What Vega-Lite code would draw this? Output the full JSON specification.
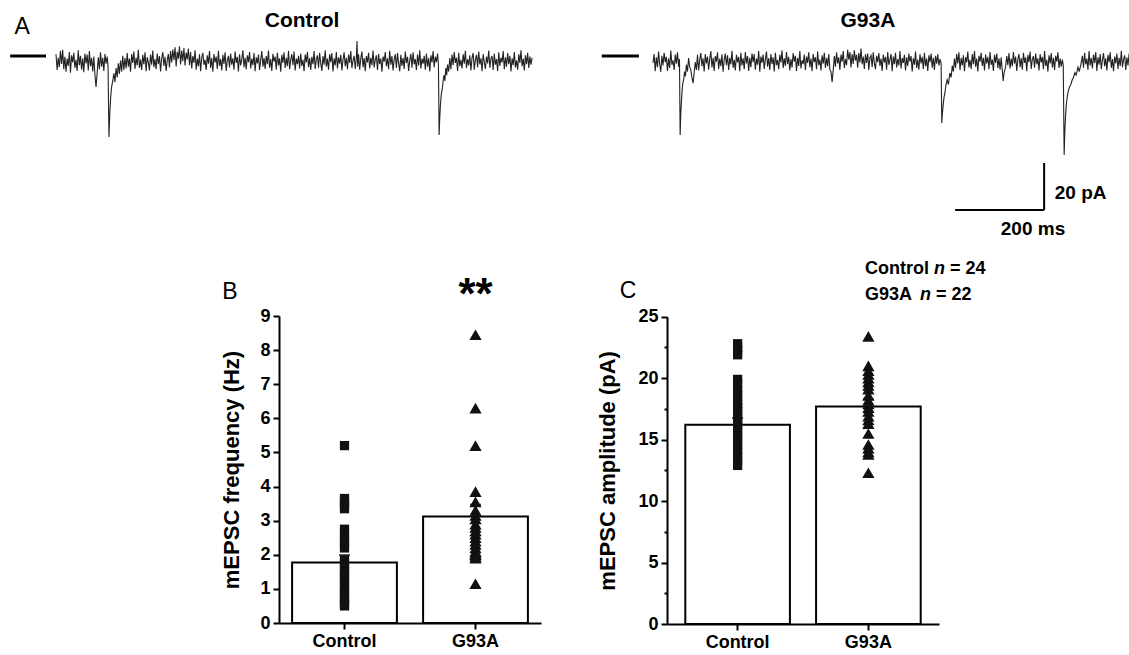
{
"$schema":"https://vega.github.io/schema/vega-lite/v6.json",
"width":1129,"height":655,"autosize":{"type":"none"},"padding":0,
"config":{"font":"Liberation Sans","view":{"stroke":null},
 "axis":{"domainColor":"black","tickColor":"black","labelColor":"black","titleColor":"black","labelFont":"Liberation Sans","titleFont":"Liberation Sans","labelFontSize":18,"labelFontWeight":"bold","titleFontSize":22,"titleFontWeight":"bold","domainWidth":2,"tickWidth":2,"grid":false}},
"datasets":{
"ctrl":[{"t":0,"v":2.9},{"t":2.5,"v":-3.8},{"t":5,"v":1.4},{"t":7.5,"v":-2.6},{"t":10,"v":4.3},{"t":12.5,"v":-1.3},{"t":15,"v":4.8},{"t":17.5,"v":-3.5},{"t":20,"v":1.8},{"t":22.5,"v":-4.6},
{"t":25,"v":1.0},{"t":27.5,"v":-2.1},{"t":30,"v":3.8},{"t":32.5,"v":-5.0},{"t":35,"v":2.4},{"t":37.5,"v":-0.6},{"t":40,"v":3.5},{"t":42.5,"v":-3.0},{"t":45,"v":0.5},{"t":47.5,"v":-4.2},
{"t":50,"v":4.6},{"t":52.5,"v":-1.8},{"t":55,"v":2.2},{"t":57.5,"v":-3.7},{"t":60,"v":1.1},{"t":62.5,"v":-4.8},{"t":65,"v":3.2},{"t":67.5,"v":-1.0},{"t":70,"v":2.7},{"t":72.5,"v":-4.0},
{"t":75,"v":4.2},{"t":77.5,"v":-2.2},{"t":80,"v":1.3},{"t":82.5,"v":-4.5},{"t":85,"v":1.9},{"t":87.5,"v":-6},{"t":90,"v":-11},{"t":92.5,"v":-5},{"t":95,"v":1.6},{"t":97.5,"v":-3.5},
{"t":100,"v":3.7},{"t":102.5,"v":-2.4},{"t":105,"v":1.4},{"t":107.5,"v":-4.2},{"t":110,"v":3.0},{"t":112.5,"v":-1.1},{"t":115,"v":1.9},{"t":117,"v":-2.4},{"t":119,"v":-32.3},{"t":121,"v":-22},
{"t":123,"v":-15},{"t":125,"v":-11},{"t":127.5,"v":-8.5},{"t":130,"v":-5.2},{"t":132.5,"v":-9},{"t":135,"v":-3.0},{"t":137.5,"v":-7},{"t":140,"v":-1.0},{"t":142.5,"v":-5.5},{"t":145,"v":0.2},
{"t":147.5,"v":-4.5},{"t":150,"v":2.2},{"t":152.5,"v":-3.8},{"t":155,"v":1.3},{"t":157.5,"v":-3.2},
{"t":160,"v":3.4},{"t":162.5,"v":-2.4},{"t":165,"v":1.0},{"t":167.5,"v":-4.6},{"t":170,"v":2.9},{"t":172.5,"v":-0.8},{"t":175,"v":4.0},{"t":177.5,"v":-3.4},{"t":180,"v":1.4},{"t":182.5,"v":-1.9},
{"t":185,"v":4.8},{"t":187.5,"v":-2.9},{"t":190,"v":0.6},{"t":192.5,"v":-3.8},{"t":195,"v":2.6},{"t":197.5,"v":-1.4},{"t":200,"v":3.7},{"t":202.5,"v":-4.3},{"t":205,"v":1.6},{"t":207.5,"v":-0.5},
{"t":210,"v":-4.0},{"t":212.5,"v":2.7},{"t":215,"v":-1.6},{"t":217.5,"v":4.5},{"t":220,"v":-2.6},{"t":222.5,"v":0.8},{"t":225,"v":-3.5},{"t":227.5,"v":3.2},{"t":230,"v":-1.3},{"t":232.5,"v":2.1},
{"t":235,"v":-4.5},{"t":237.5,"v":1.1},{"t":240,"v":3.8},{"t":242.5,"v":-2.1},{"t":245,"v":1.8},{"t":247.5,"v":-4.2},{"t":250,"v":0.3},{"t":252.5,"v":3.0},{"t":255,"v":-2.7},{"t":257.5,"v":4.2},
{"t":260,"v":-0.6},{"t":262.5,"v":4.9},{"t":265,"v":0.4},{"t":267.5,"v":5.8},{"t":270,"v":-2.3},{"t":272.5,"v":3.9},{"t":275,"v":1.0},{"t":277.5,"v":6.3},{"t":280,"v":-1.5},{"t":282.5,"v":4.4},
{"t":285,"v":-0.1},{"t":287.5,"v":5.5},{"t":290,"v":-1.9},{"t":292.5,"v":3.6},{"t":295,"v":0.7},{"t":297.5,"v":5.3},
{"t":300,"v":-1.8},{"t":302.5,"v":3.8},{"t":305,"v":-3.2},{"t":307.5,"v":2.1},{"t":310,"v":-0.8},{"t":312.5,"v":4.6},{"t":315,"v":-3.7},{"t":317.5,"v":1.0},{"t":320,"v":-2.2},{"t":322.5,"v":2.9},
{"t":325,"v":-4.3},{"t":327.5,"v":1.4},{"t":330,"v":3.5},{"t":332.5,"v":-1.6},{"t":335,"v":0.5},{"t":337.5,"v":-3.8},{"t":340,"v":2.4},{"t":342.5,"v":-1.1},{"t":345,"v":4.2},{"t":347.5,"v":-3.0},
{"t":350,"v":1.3},{"t":352.5,"v":-4.6},{"t":355,"v":3.0},{"t":357.5,"v":-0.6},{"t":360,"v":1.9},{"t":362.5,"v":-3.4},{"t":365,"v":4.3},{"t":367.5,"v":-2.1},{"t":370,"v":0.8},{"t":372.5,"v":-4.0},
{"t":375,"v":2.6},{"t":377.5,"v":-1.3},{"t":380,"v":3.7},{"t":382.5,"v":-4.2},{"t":385,"v":0.3},{"t":387.5,"v":2.2},{"t":390,"v":-2.7},{"t":392.5,"v":3.2},{"t":395,"v":-1.6},{"t":397.5,"v":1.1},
{"t":400,"v":-3.7},{"t":402.5,"v":4.0},{"t":405,"v":-0.8},{"t":407.5,"v":1.8},{"t":410,"v":-4.5},{"t":412.5,"v":2.9},{"t":415,"v":-1.9},{"t":417.5,"v":0.6},{"t":420,"v":4.6},{"t":422.5,"v":-2.6},
{"t":425,"v":1.4},{"t":427.5,"v":-3.5},{"t":430,"v":2.4},{"t":432.5,"v":-0.5},{"t":435,"v":3.8},{"t":437.5,"v":-3.2},{"t":440,"v":1.0},{"t":442.5,"v":-1.8},{"t":445,"v":3.4},{"t":447.5,"v":-4.3},
{"t":450,"v":1.6},{"t":452.5,"v":-1.0},{"t":455,"v":2.7},{"t":457.5,"v":-3.8},{"t":460,"v":0.5},{"t":462.5,"v":4.2},{"t":465,"v":-2.4},{"t":467.5,"v":1.3},{"t":470,"v":-3.4},{"t":472.5,"v":2.1},
{"t":475,"v":-1.4},{"t":477.5,"v":4.5},{"t":480,"v":-2.9},{"t":482.5,"v":0.8},{"t":485,"v":-4.2},{"t":487.5,"v":3.0},{"t":490,"v":-0.3},{"t":492.5,"v":1.9},{"t":495,"v":-3.7},{"t":497.5,"v":3.5},
{"t":500,"v":-1.9},{"t":502.5,"v":1.1},{"t":505,"v":-4.6},{"t":507.5,"v":2.6},{"t":510,"v":-0.8},{"t":512.5,"v":3.7},{"t":515,"v":-3.0},{"t":517.5,"v":1.4},{"t":520,"v":-2.2},{"t":522.5,"v":4.3},
{"t":525,"v":-3.5},{"t":527.5,"v":0.6},{"t":530,"v":2.9},{"t":532.5,"v":-1.8},{"t":535,"v":4.0},{"t":537.5,"v":-4.0},{"t":540,"v":1.0},{"t":542.5,"v":-1.3},{"t":545,"v":2.2},{"t":547.5,"v":-3.2},
{"t":550,"v":3.2},{"t":552.5,"v":-2.1},{"t":555,"v":0.5},{"t":557.5,"v":-4.3},{"t":560,"v":2.7},{"t":562.5,"v":-0.6},{"t":565,"v":3.8},{"t":567.5,"v":-2.6},{"t":570,"v":1.3},{"t":572.5,"v":-3.8},
{"t":575,"v":1.8},{"t":577.5,"v":-1.4},{"t":580,"v":4.2},{"t":582.5,"v":-3.4},{"t":585,"v":0.8},{"t":587.5,"v":2.4},{"t":590,"v":-2.9},{"t":592.5,"v":3.5},{"t":595,"v":-1.0},{"t":597.5,"v":-4.2},
{"t":600,"v":2.1},{"t":602.5,"v":-1.6},{"t":605,"v":4.6},{"t":607.5,"v":-2.4},{"t":610,"v":1.0},{"t":612.5,"v":-3.7},{"t":615,"v":2.9},{"t":617.5,"v":-0.5},{"t":620,"v":3.4},{"t":622.5,"v":-4.5},
{"t":625,"v":1.1},{"t":627.5,"v":-1.9},{"t":630,"v":3.8},{"t":632.5,"v":-3.2},{"t":635,"v":1.6},{"t":637.5,"v":-1.1},{"t":640,"v":2.6},{"t":642.5,"v":-4.0},{"t":645,"v":0.6},{"t":647.5,"v":3.7},
{"t":650,"v":-2.2},{"t":652.5,"v":1.4},{"t":655,"v":-3.5},{"t":657.5,"v":2.7},{"t":660,"v":-0.8},{"t":662.5,"v":4.2},{"t":665,"v":-3.0},{"t":667.5,"v":0.3},{"t":670,"v":2.2},{"t":672.5,"v":-3.4},
{"t":675,"v":1.6},{"t":676.5,"v":8.5},{"t":678,"v":-2.4},{"t":680,"v":2.9},{"t":682.5,"v":-3.7},{"t":685,"v":1.0},{"t":687.5,"v":4.0},{"t":690,"v":-2.6},{"t":692.5,"v":1.3},{"t":695,"v":-4.3},{"t":697.5,"v":2.1},
{"t":700,"v":-0.6},{"t":702.5,"v":3.5},{"t":705,"v":-3.2},{"t":707.5,"v":1.4},{"t":710,"v":-1.8},{"t":712.5,"v":4.5},{"t":715,"v":-2.7},{"t":717.5,"v":0.5},{"t":720,"v":2.4},{"t":722.5,"v":-3.8},
{"t":725,"v":3.0},{"t":727.5,"v":-1.3},{"t":730,"v":1.0},{"t":732.5,"v":-4.6},{"t":735,"v":1.9},{"t":737.5,"v":-0.3},{"t":740,"v":3.8},{"t":742.5,"v":-2.2},{"t":745,"v":1.1},{"t":747.5,"v":-3.5},
{"t":750,"v":4.3},{"t":752.5,"v":-1.6},{"t":755,"v":2.1},{"t":757.5,"v":-4.0},{"t":760,"v":0.6},{"t":762.5,"v":2.9},{"t":765,"v":-3.0},{"t":767.5,"v":3.4},{"t":770,"v":-1.0},{"t":772.5,"v":-4.3},
{"t":775,"v":2.6},{"t":777.5,"v":-2.1},{"t":780,"v":1.4},{"t":782.5,"v":-3.4},{"t":785,"v":4.0},{"t":787.5,"v":-0.8},{"t":790,"v":1.8},{"t":792.5,"v":-4.2},{"t":795,"v":0.3},{"t":797.5,"v":3.0},
{"t":800,"v":-2.9},{"t":802.5,"v":3.7},{"t":805,"v":-1.4},{"t":807.5,"v":0.8},{"t":810,"v":-3.8},{"t":812.5,"v":2.7},{"t":815,"v":-1.9},{"t":817.5,"v":4.6},{"t":820,"v":-3.2},{"t":822.5,"v":1.0},
{"t":825,"v":-1.1},{"t":827.5,"v":2.2},{"t":830,"v":-3.7},{"t":832.5,"v":3.2},{"t":835,"v":-2.4},{"t":837.5,"v":1.3},{"t":840,"v":-4.5},{"t":842.5,"v":2.4},{"t":845,"v":-0.6},{"t":847.5,"v":4.2},
{"t":850,"v":-2.6},{"t":852.5,"v":1.9},{"t":855,"v":-0.5},{"t":857.5,"v":3.2},{"t":859.5,"v":-1.6},{"t":861,"v":-31.5},{"t":862.5,"v":-24},{"t":864,"v":-18.5},{"t":866,"v":-14},{"t":868,"v":-12},
{"t":870,"v":-8.5},{"t":872,"v":-6},{"t":874,"v":-8.5},{"t":876,"v":-3},{"t":878,"v":-6},{"t":880,"v":-1.5},{"t":882.5,"v":-4.5},{"t":885,"v":1.2},{"t":887.5,"v":-3.5},
{"t":890,"v":2.7},{"t":892.5,"v":-1.8},{"t":895,"v":3.8},{"t":897.5,"v":-0.8},{"t":900,"v":1.4},{"t":902.5,"v":-4.2},{"t":905,"v":3.5},{"t":907.5,"v":-2.2},{"t":910,"v":0.5},{"t":912.5,"v":-3.2},
{"t":915,"v":2.9},{"t":917.5,"v":-1.1},{"t":920,"v":4.3},{"t":922.5,"v":-3.0},{"t":925,"v":0.8},{"t":927.5,"v":-1.9},{"t":930,"v":2.4},{"t":932.5,"v":-4.0},{"t":935,"v":1.3},{"t":937.5,"v":3.4},
{"t":940,"v":-3.7},{"t":942.5,"v":0.6},{"t":945,"v":2.6},{"t":947.5,"v":-2.6},{"t":950,"v":4.0},{"t":952.5,"v":-1.4},{"t":955,"v":1.1},{"t":957.5,"v":-4.3},{"t":960,"v":3.0},{"t":962.5,"v":-0.5},
{"t":965,"v":-3.4},{"t":967.5,"v":1.9},{"t":970,"v":-1.0},{"t":972.5,"v":4.5},{"t":975,"v":-2.9},{"t":977.5,"v":1.0},{"t":980,"v":2.1},{"t":982.5,"v":-3.8},{"t":985,"v":3.2},{"t":987.5,"v":-1.6},
{"t":990,"v":0.8},{"t":992.5,"v":-4.2},{"t":995,"v":3.7},{"t":997.5,"v":-2.1},{"t":1000,"v":1.4},{"t":1002.5,"v":-0.6},{"t":1005,"v":4.2},{"t":1007.5,"v":-3.5},{"t":1010,"v":1.6},{"t":1012.5,"v":-2.4},
{"t":1015,"v":3.4},{"t":1017.5,"v":-1.3},{"t":1020,"v":2.2},{"t":1022.5,"v":-4.5},{"t":1025,"v":1.1},{"t":1027.5,"v":-1.8},{"t":1030,"v":3.8},{"t":1032.5,"v":-2.7},{"t":1035,"v":0.3},{"t":1037.5,"v":-3.7},
{"t":1040,"v":2.9},{"t":1042.5,"v":-0.8},{"t":1045,"v":4.6},{"t":1047.5,"v":-2.2},{"t":1050,"v":1.0},{"t":1052.5,"v":-4.0},{"t":1055,"v":2.4},{"t":1057.5,"v":-1.4},{"t":1060,"v":3.5},{"t":1062.5,"v":-3.0},
{"t":1065,"v":1.9},{"t":1067.5,"v":-1.6},{"t":1070,"v":1.3}],
"g93a":[{"t":0,"v":-0.8},{"t":2.5,"v":3.0},{"t":5,"v":-4.3},{"t":7.5,"v":1.6},{"t":10,"v":-2.6},{"t":12.5,"v":4.0},{"t":15,"v":-1.3},{"t":17.5,"v":-4.6},{"t":20,"v":2.2},{"t":22.5,"v":-1.9},
{"t":25,"v":3.5},{"t":27.5,"v":-0.5},{"t":30,"v":1.8},{"t":32.5,"v":-4.2},{"t":35,"v":1.0},{"t":37.5,"v":-3.0},{"t":40,"v":4.5},{"t":42.5,"v":-1.6},{"t":45,"v":0.3},{"t":47.5,"v":-3.8},
{"t":50,"v":2.7},{"t":52.5,"v":-1.1},{"t":55,"v":3.7},{"t":57.5,"v":-2.4},{"t":59.5,"v":0.8},{"t":61,"v":-31.5},{"t":62.5,"v":-22},{"t":64,"v":-17},{"t":65.5,"v":-12.5},{"t":67,"v":-9.4},
{"t":69,"v":-7.8},{"t":71,"v":-4.5},{"t":73,"v":-6.5},{"t":75,"v":-1.5},{"t":77.5,"v":-4.5},{"t":80,"v":1.3},{"t":82.5,"v":-2.5},{"t":85,"v":-3.8},{"t":87.5,"v":-7},{"t":90,"v":-9.4},{"t":92.5,"v":-5},{"t":95,"v":-0.5},{"t":97.5,"v":-3.8},
{"t":100,"v":2.6},{"t":102.5,"v":-4.0},{"t":105,"v":0.5},{"t":107.5,"v":3.4},{"t":110,"v":-2.2},{"t":112.5,"v":1.1},{"t":115,"v":-4.5},{"t":117.5,"v":3.0},{"t":120,"v":-1.0},{"t":122.5,"v":1.9},
{"t":125,"v":-3.7},{"t":127.5,"v":0.8},{"t":130,"v":4.2},{"t":132.5,"v":-2.7},{"t":135,"v":1.4},{"t":137.5,"v":-4.2},{"t":140,"v":2.1},{"t":142.5,"v":-0.3},{"t":145,"v":3.7},{"t":147.5,"v":-3.4},
{"t":150,"v":1.0},{"t":152.5,"v":-2.2},{"t":155,"v":2.9},{"t":157.5,"v":-4.6},{"t":160,"v":0.6},{"t":162.5,"v":3.2},{"t":165,"v":-1.8},{"t":167.5,"v":2.4},{"t":170,"v":-3.8},{"t":172.5,"v":1.3},
{"t":175,"v":-1.4},{"t":177.5,"v":4.3},{"t":180,"v":-2.9},{"t":182.5,"v":0.5},{"t":185,"v":-4.0},{"t":187.5,"v":2.6},{"t":190,"v":-0.6},{"t":192.5,"v":1.8},{"t":195,"v":-4.3},{"t":197.5,"v":3.5},
{"t":200,"v":-1.9},{"t":202.5,"v":1.1},{"t":205,"v":-3.5},{"t":207.5,"v":3.8},{"t":210,"v":-1.0},{"t":212.5,"v":2.1},{"t":215,"v":-4.2},{"t":217.5,"v":1.4},{"t":220,"v":-2.6},{"t":222.5,"v":3.2},
{"t":225,"v":-0.5},{"t":227.5,"v":2.9},{"t":230,"v":-3.7},{"t":232.5,"v":1.0},{"t":235,"v":-1.6},{"t":237.5,"v":4.2},{"t":240,"v":-4.6},{"t":242.5,"v":1.9},{"t":245,"v":-0.8},{"t":247.5,"v":2.7},
{"t":250,"v":-3.4},{"t":252.5,"v":0.6},{"t":255,"v":4.0},{"t":257.5,"v":-2.4},{"t":260,"v":1.3},{"t":262.5,"v":-3.8},{"t":265,"v":3.0},{"t":267.5,"v":-1.3},{"t":270,"v":1.6},{"t":272.5,"v":-4.5},
{"t":275,"v":3.5},{"t":277.5,"v":-1.8},{"t":280,"v":0.5},{"t":282.5,"v":-3.5},{"t":285,"v":2.6},{"t":287.5,"v":-0.6},{"t":290,"v":4.5},{"t":292.5,"v":-3.0},{"t":295,"v":1.1},{"t":297.5,"v":-2.1},
{"t":300,"v":3.8},{"t":302.5,"v":-1.4},{"t":305,"v":1.8},{"t":307.5,"v":-4.0},{"t":310,"v":0.8},{"t":312.5,"v":-2.7},{"t":315,"v":3.4},{"t":317.5,"v":-0.3},{"t":320,"v":2.2},{"t":322.5,"v":-4.2},
{"t":325,"v":1.4},{"t":327.5,"v":-2.1},{"t":330,"v":4.2},{"t":332.5,"v":-3.2},{"t":335,"v":0.3},{"t":337.5,"v":-1.3},{"t":340,"v":2.7},{"t":342.5,"v":-3.8},{"t":345,"v":1.9},{"t":347.5,"v":-0.8},
{"t":350,"v":3.7},{"t":352.5,"v":-2.6},{"t":355,"v":1.0},{"t":357.5,"v":-4.3},{"t":360,"v":3.0},{"t":362.5,"v":-0.5},{"t":365,"v":1.6},{"t":367.5,"v":-3.5},{"t":370,"v":4.0},{"t":372.5,"v":-1.8},
{"t":375,"v":0.6},{"t":377.5,"v":-4.0},{"t":380,"v":2.4},{"t":382.5,"v":-1.1},{"t":385,"v":3.5},{"t":387.5,"v":-2.9},{"t":390,"v":1.3},{"t":392.5,"v":-2.2},{"t":395,"v":3.0},{"t":397.5,"v":-3.7},
{"t":400,"v":-4.5},{"t":402.5,"v":-9},{"t":405,"v":-4},{"t":407.5,"v":2.1},
{"t":410,"v":-2.4},{"t":412.5,"v":3.7},{"t":415,"v":-1.0},{"t":417.5,"v":1.6},{"t":420,"v":-3.8},{"t":422.5,"v":2.7},{"t":425,"v":-0.3},{"t":427.5,"v":4.2},{"t":430,"v":-3.0},{"t":432.5,"v":0.8},
{"t":435,"v":-1.8},{"t":437.5,"v":4.8},{"t":440,"v":0.6},{"t":442.5,"v":3.8},{"t":445,"v":-2.7},{"t":447.5,"v":3.0},{"t":450,"v":-1.3},{"t":452.5,"v":4.6},{"t":455,"v":0.2},{"t":457.5,"v":2.6},
{"t":460,"v":-2.9},{"t":462.5,"v":3.4},{"t":465,"v":-0.6},{"t":467.5,"v":5.3},{"t":470,"v":-1.4},{"t":472.5,"v":1.9},{"t":475,"v":-3.4},{"t":477.5,"v":2.9},{"t":480,"v":-0.8},{"t":482.5,"v":3.2},
{"t":485,"v":-3.8},{"t":487.5,"v":1.4},{"t":490,"v":2.4},{"t":492.5,"v":-2.6},{"t":495,"v":3.7},{"t":497.5,"v":-1.1},{"t":500,"v":-3.5},{"t":502.5,"v":2.2},{"t":505,"v":-0.5},{"t":507.5,"v":3.4},
{"t":510,"v":-2.1},{"t":512.5,"v":1.0},{"t":515,"v":-4.2},{"t":517.5,"v":2.7},{"t":520,"v":-0.6},{"t":522.5,"v":1.8},{"t":525,"v":-3.7},{"t":527.5,"v":3.8},{"t":530,"v":-1.6},{"t":532.5,"v":0.5},
{"t":535,"v":3.0},{"t":537.5,"v":-4.3},{"t":540,"v":1.9},{"t":542.5,"v":-1.3},{"t":545,"v":3.5},{"t":547.5,"v":-2.7},{"t":550,"v":0.8},{"t":552.5,"v":-1.9},{"t":555,"v":4.2},{"t":557.5,"v":-3.2},
{"t":560,"v":1.3},{"t":562.5,"v":-0.8},{"t":565,"v":2.6},{"t":567.5,"v":-4.0},{"t":570,"v":1.6},{"t":572.5,"v":-2.1},{"t":575,"v":3.2},{"t":577.5,"v":-0.3},{"t":580,"v":2.1},{"t":582.5,"v":-4.5},
{"t":585,"v":1.1},{"t":587.5,"v":-1.6},{"t":590,"v":4.0},{"t":592.5,"v":-3.0},{"t":595,"v":0.6},{"t":597.5,"v":-3.7},{"t":600,"v":2.9},{"t":602.5,"v":-1.0},{"t":605,"v":1.8},{"t":607.5,"v":-3.4},
{"t":610,"v":3.5},{"t":612.5,"v":-2.2},{"t":615,"v":1.0},{"t":617.5,"v":-4.2},{"t":620,"v":2.4},{"t":622.5,"v":-0.5},{"t":625,"v":3.2},{"t":627.5,"v":-2.9},{"t":630,"v":1.4},{"t":632.5,"v":-3.8},
{"t":635,"v":2.2},{"t":637.5,"v":-1.1},{"t":640,"v":2.9},{"t":642.5,"v":-1.9},{"t":645,"v":0.8},{"t":647.5,"v":-1.0},{"t":649,"v":-26.4},{"t":650.5,"v":-22},{"t":652,"v":-19},{"t":654,"v":-15.5},
{"t":656,"v":-13.6},{"t":658.5,"v":-10},{"t":661,"v":-8},{"t":664,"v":-10},{"t":667,"v":-5.1},{"t":670,"v":-7},{"t":672.5,"v":-2},{"t":675,"v":-4.5},{"t":677.5,"v":1.0},
{"t":680,"v":-2.9},{"t":682.5,"v":3.0},{"t":685,"v":-1.0},{"t":687.5,"v":3.7},{"t":690,"v":-3.8},{"t":692.5,"v":1.3},{"t":695,"v":-1.9},{"t":697.5,"v":2.4},{"t":700,"v":-4.3},{"t":702.5,"v":1.6},
{"t":705,"v":-0.6},{"t":707.5,"v":4.0},{"t":710,"v":-2.7},{"t":712.5,"v":0.5},{"t":715,"v":-3.4},{"t":717.5,"v":2.9},{"t":720,"v":-1.4},{"t":722.5,"v":4.2},{"t":725,"v":-2.4},{"t":727.5,"v":1.0},
{"t":730,"v":-4.5},{"t":732.5,"v":2.2},{"t":735,"v":-0.3},{"t":737.5,"v":3.5},{"t":740,"v":-2.1},{"t":742.5,"v":1.4},{"t":745,"v":-4.0},{"t":747.5,"v":2.7},{"t":750,"v":-1.0},{"t":752.5,"v":1.8},
{"t":755,"v":-3.5},{"t":757.5,"v":3.8},{"t":760,"v":-1.6},{"t":762.5,"v":0.6},{"t":765,"v":-4.2},{"t":767.5,"v":2.6},{"t":770,"v":-0.8},{"t":772.5,"v":3.2},{"t":775,"v":-3.0},{"t":777.5,"v":1.1},
{"t":780,"v":-3.7},{"t":782.5,"v":1.6},{"t":785,"v":-4},{"t":787,"v":-8.5},{"t":789,"v":-5},{"t":792.5,"v":-2.5},{"t":795,"v":2.1},{"t":797.5,"v":-1.8},
{"t":800,"v":3.4},{"t":802.5,"v":-3.2},{"t":805,"v":1.0},{"t":807.5,"v":-2.2},{"t":810,"v":3.8},{"t":812.5,"v":-1.1},{"t":815,"v":1.9},{"t":817.5,"v":-4.2},{"t":820,"v":0.6},{"t":822.5,"v":3.0},
{"t":825,"v":-2.6},{"t":827.5,"v":1.3},{"t":830,"v":-3.7},{"t":832.5,"v":3.5},{"t":835,"v":-0.8},{"t":837.5,"v":1.6},{"t":840,"v":-4.3},{"t":842.5,"v":2.6},{"t":845,"v":-0.5},{"t":847.5,"v":4.0},
{"t":850,"v":-3.4},{"t":852.5,"v":0.8},{"t":855,"v":2.1},{"t":857.5,"v":-2.9},{"t":860,"v":3.2},{"t":862.5,"v":-1.4},{"t":865,"v":1.1},{"t":867.5,"v":-4.0},{"t":870,"v":2.9},{"t":872.5,"v":-0.6},
{"t":875,"v":1.8},{"t":877.5,"v":-3.5},{"t":880,"v":4.2},{"t":882.5,"v":-2.1},{"t":885,"v":0.5},{"t":887.5,"v":-4.5},{"t":890,"v":2.4},{"t":892.5,"v":-1.0},{"t":895,"v":3.4},{"t":897.5,"v":-2.7},
{"t":900,"v":1.4},{"t":902.5,"v":-3.8},{"t":905,"v":2.2},{"t":907.5,"v":-0.3},{"t":910,"v":3.7},{"t":912.5,"v":-3.0},{"t":915,"v":1.0},{"t":917.5,"v":-2.4},{"t":920,"v":0.6},{"t":922,"v":-1.9},
{"t":924,"v":-40},{"t":925.5,"v":-30},{"t":927,"v":-24},{"t":928.5,"v":-19.5},{"t":930,"v":-16.6},{"t":933,"v":-13},{"t":936,"v":-11},{"t":939,"v":-10},{"t":942,"v":-8.1},{"t":945,"v":-7},
{"t":948,"v":-5},{"t":951,"v":-6},{"t":955,"v":-2.6},{"t":958,"v":-4.5},{"t":962,"v":-1.0},
{"t":965,"v":2.2},{"t":967.5,"v":-2.9},{"t":970,"v":3.5},{"t":972.5,"v":-1.4},{"t":975,"v":1.0},{"t":977.5,"v":-3.7},{"t":980,"v":4.2},{"t":982.5,"v":-1.9},{"t":985,"v":1.3},{"t":987.5,"v":-3.2},
{"t":990,"v":2.7},{"t":992.5,"v":-0.8},{"t":995,"v":3.8},{"t":997.5,"v":-4.2},{"t":1000,"v":1.6},{"t":1002.5,"v":-1.6},{"t":1005,"v":3.0},{"t":1007.5,"v":-3.5},{"t":1010,"v":0.5},{"t":1012.5,"v":3.4},
{"t":1015,"v":-2.2},{"t":1017.5,"v":1.1},{"t":1020,"v":-4.0},{"t":1022.5,"v":2.6},{"t":1025,"v":-0.5},{"t":1027.5,"v":3.7},{"t":1030,"v":-2.9},{"t":1032.5,"v":0.8},{"t":1035,"v":-4.3},{"t":1037.5,"v":1.9},
{"t":1040,"v":-1.0},{"t":1042.5,"v":3.2},{"t":1045,"v":-3.4},{"t":1047.5,"v":1.4},{"t":1050,"v":-2.1},{"t":1052.5,"v":4.3},{"t":1055,"v":-2.6},{"t":1057.5,"v":0.6},{"t":1060,"v":2.4},{"t":1062.5,"v":-3.8},
{"t":1065,"v":1.6},{"t":1067.5,"v":-1.9},{"t":1070,"v":3.2},{"t":1072.5,"v":-0.8}],
"freqpts":[{"group":"Control","val":5.2},{"group":"Control","val":3.65},{"group":"Control","val":3.55},{"group":"Control","val":3.45},{"group":"Control","val":3.35},{"group":"Control","val":2.75},{"group":"Control","val":2.6},{"group":"Control","val":2.45},{"group":"Control","val":2.3},{"group":"Control","val":2.2},{"group":"Control","val":1.85},{"group":"Control","val":1.75},{"group":"Control","val":1.6},{"group":"Control","val":1.5},{"group":"Control","val":1.4},{"group":"Control","val":1.3},{"group":"Control","val":1.2},{"group":"Control","val":1.05},{"group":"Control","val":0.95},{"group":"Control","val":0.85},{"group":"Control","val":0.75},{"group":"Control","val":0.65},{"group":"Control","val":0.55},{"group":"Control","val":0.5},
{"group":"G93A","val":8.45},{"group":"G93A","val":6.3},{"group":"G93A","val":5.2},{"group":"G93A","val":3.85},{"group":"G93A","val":3.55},{"group":"G93A","val":3.3},{"group":"G93A","val":3.15},{"group":"G93A","val":3.05},{"group":"G93A","val":2.9},{"group":"G93A","val":2.8},{"group":"G93A","val":2.7},{"group":"G93A","val":2.6},{"group":"G93A","val":2.5},{"group":"G93A","val":2.4},{"group":"G93A","val":2.3},{"group":"G93A","val":2.2},{"group":"G93A","val":2.1},{"group":"G93A","val":2.05},{"group":"G93A","val":2.0},{"group":"G93A","val":1.95},{"group":"G93A","val":1.9},{"group":"G93A","val":1.15}],
"amppts":[{"group":"Control","val":22.8},{"group":"Control","val":22.5},{"group":"Control","val":22.2},{"group":"Control","val":21.9},{"group":"Control","val":19.9},{"group":"Control","val":19.6},{"group":"Control","val":19.0},{"group":"Control","val":18.7},{"group":"Control","val":18.2},{"group":"Control","val":17.9},{"group":"Control","val":17.6},{"group":"Control","val":17.3},{"group":"Control","val":17.0},{"group":"Control","val":16.7},{"group":"Control","val":16.4},{"group":"Control","val":16.1},{"group":"Control","val":15.7},{"group":"Control","val":15.3},{"group":"Control","val":14.9},{"group":"Control","val":14.5},{"group":"Control","val":14.1},{"group":"Control","val":13.7},{"group":"Control","val":13.3},{"group":"Control","val":12.9},
{"group":"G93A","val":23.4},{"group":"G93A","val":21.0},{"group":"G93A","val":20.6},{"group":"G93A","val":20.3},{"group":"G93A","val":20.0},{"group":"G93A","val":19.7},{"group":"G93A","val":19.4},{"group":"G93A","val":19.1},{"group":"G93A","val":18.6},{"group":"G93A","val":18.2},{"group":"G93A","val":17.9},{"group":"G93A","val":17.6},{"group":"G93A","val":17.3},{"group":"G93A","val":16.9},{"group":"G93A","val":16.6},{"group":"G93A","val":16.3},{"group":"G93A","val":15.5},{"group":"G93A","val":14.6},{"group":"G93A","val":14.3},{"group":"G93A","val":14.0},{"group":"G93A","val":13.8},{"group":"G93A","val":12.3}],
"freqsum":[{"group":"Control","mean":1.77,"lo":1.55,"hi":1.99},{"group":"G93A","mean":3.12,"lo":2.77,"hi":3.47}],
"ampsum":[{"group":"Control","mean":16.2,"lo":15.65,"hi":16.75},{"group":"G93A","mean":17.7,"lo":17.1,"hi":18.3}]
},
"layer":[
{"layer":[
 {"data":{"name":"ctrl"},"mark":{"type":"line","color":"#222222","strokeWidth":1.1,"clip":false},
  "encoding":{"x":{"field":"t","type":"quantitative","scale":{"domain":[0,1072],"range":[56,533],"nice":false,"zero":false},"axis":null},
   "y":{"field":"v","type":"quantitative","scale":{"domain":[-80,15],"range":[249,25.75],"nice":false,"zero":false},"axis":null}}},
 {"data":{"values":[{"a":-103,"b":-22.5,"v":2.1}]},"mark":{"type":"rule","color":"black","strokeWidth":3},
  "encoding":{"x":{"field":"a","type":"quantitative"},"x2":{"field":"b"},"y":{"field":"v","type":"quantitative"}}},
 {"data":{"values":[{"label":"A","t":-76,"v":14.5}]},"mark":{"type":"text","fontSize":23,"align":"center","baseline":"middle","color":"black"},
  "encoding":{"x":{"field":"t","type":"quantitative"},"y":{"field":"v","type":"quantitative"},"text":{"field":"label"}}},
 {"data":{"values":[{"label":"Control","t":553,"v":17}]},"mark":{"type":"text","fontSize":21,"fontWeight":"bold","align":"center","baseline":"middle","color":"black"},
  "encoding":{"x":{"field":"t","type":"quantitative"},"y":{"field":"v","type":"quantitative"},"text":{"field":"label"}}}
]},
{"layer":[
 {"data":{"name":"g93a"},"mark":{"type":"line","color":"#222222","strokeWidth":1.1,"clip":false},
  "encoding":{"x":{"field":"t","type":"quantitative","scale":{"domain":[0,1072],"range":[653,1130],"nice":false,"zero":false},"axis":null},
   "y":{"field":"v","type":"quantitative","scale":{"domain":[-80,15],"range":[249,25.75],"nice":false,"zero":false},"axis":null}}},
 {"data":{"values":[{"a":-115,"b":-31.5,"v":2.1,"w":2.1}]},"mark":{"type":"rule","color":"black","strokeWidth":3},
  "encoding":{"x":{"field":"a","type":"quantitative"},"x2":{"field":"b"},"y":{"field":"v","type":"quantitative"},"y2":{"field":"w"}}},
 {"data":{"values":[{"a":679,"b":879,"v":-63.4,"w":-63.4},{"a":879,"b":879,"v":-43.4,"w":-63.4}]},"mark":{"type":"rule","color":"black","strokeWidth":2},
  "encoding":{"x":{"field":"a","type":"quantitative"},"x2":{"field":"b"},"y":{"field":"v","type":"quantitative"},"y2":{"field":"w"}}},
 {"data":{"values":[{"label":"20 pA","t":903,"v":-56.2}]},"mark":{"type":"text","fontSize":19,"fontWeight":"bold","align":"left","baseline":"middle","color":"black"},
  "encoding":{"x":{"field":"t","type":"quantitative"},"y":{"field":"v","type":"quantitative"},"text":{"field":"label"}}},
 {"data":{"values":[{"label":"200 ms","t":854,"v":-71.7}]},"mark":{"type":"text","fontSize":19,"fontWeight":"bold","align":"center","baseline":"middle","color":"black"},
  "encoding":{"x":{"field":"t","type":"quantitative"},"y":{"field":"v","type":"quantitative"},"text":{"field":"label"}}},
 {"data":{"values":[{"label":"G93A","t":483,"v":17}]},"mark":{"type":"text","fontSize":21,"fontWeight":"bold","align":"center","baseline":"middle","color":"black"},
  "encoding":{"x":{"field":"t","type":"quantitative"},"y":{"field":"v","type":"quantitative"},"text":{"field":"label"}}}
]},
{"layer":[
 {"data":{"name":"freqsum"},"mark":{"type":"bar","fill":"white","stroke":"black","strokeWidth":2},
  "encoding":{"x":{"field":"group","type":"nominal","scale":{"type":"band","domain":["Control","G93A"],"range":[279,541],"paddingInner":0.2,"paddingOuter":0.1},
    "axis":{"orient":"bottom","offset":-32,"title":null,"labelAngle":0,"tickSize":6,"labelPadding":3}},
   "y":{"field":"mean","type":"quantitative","scale":{"domain":[0,9],"range":[623,316],"nice":false,"zero":false},
    "axis":{"orient":"left","offset":-279,"title":"mEPSC frequency (Hz)","values":[0,0.5,1,1.5,2,2.5,3,3.5,4,4.5,5,5.5,6,6.5,7,7.5,8,8.5,9],"labelExpr":"datum.value % 1 === 0 ? format(datum.value, 'd') : ''","labelOverlap":false,"labelPadding":3,"titlePadding":16,
     "tickSize":{"condition":{"test":"datum.value % 1 !== 0","value":3},"value":6}}}}},
 {"data":{"name":"freqsum"},"mark":{"type":"rule","color":"black","strokeWidth":2},
  "encoding":{"x":{"field":"group","type":"nominal"},"y":{"field":"lo","type":"quantitative"},"y2":{"field":"hi"}}},
 {"data":{"name":"freqsum"},"mark":{"type":"tick","color":"black","size":11,"thickness":2},
  "encoding":{"x":{"field":"group","type":"nominal"},"y":{"field":"hi","type":"quantitative"}}},
 {"data":{"name":"freqpts"},"mark":{"type":"point","filled":true,"color":"#111","opacity":1},
  "encoding":{"x":{"field":"group","type":"nominal"},"y":{"field":"val","type":"quantitative"},
   "shape":{"field":"group","type":"nominal","scale":{"domain":["Control","G93A"],"range":["square","triangle-up"]},"legend":null},
   "size":{"field":"group","type":"nominal","scale":{"domain":["Control","G93A"],"range":[85,150]},"legend":null}}},
 {"data":{"values":[{"label":"**","group":"G93A","v":9.2}]},"mark":{"type":"text","fontSize":44,"fontWeight":"bold","align":"center","baseline":"alphabetic","color":"black"},
  "encoding":{"x":{"field":"group","type":"nominal"},"y":{"field":"v","type":"quantitative"},"text":{"field":"label"}}},
 {"data":{"values":[{"label":"B","group":"Control","v":9.7}]},"mark":{"type":"text","fontSize":23,"align":"center","baseline":"middle","color":"black","dx":-114.5},
  "encoding":{"x":{"field":"group","type":"nominal"},"y":{"field":"v","type":"quantitative"},"text":{"field":"label"}}}
]},
{"layer":[
 {"data":{"name":"ampsum"},"mark":{"type":"bar","fill":"white","stroke":"black","strokeWidth":2},
  "encoding":{"x":{"field":"group","type":"nominal","scale":{"type":"band","domain":["Control","G93A"],"range":[667,939],"paddingInner":0.2,"paddingOuter":0.14},
    "axis":{"orient":"bottom","offset":-31,"title":null,"labelAngle":0,"tickSize":6,"labelPadding":3}},
   "y":{"field":"mean","type":"quantitative","scale":{"domain":[0,25],"range":[624,316.7],"nice":false,"zero":false},
    "axis":{"orient":"left","offset":-667,"title":"mEPSC amplitude (pA)","values":[0,2.5,5,7.5,10,12.5,15,17.5,20,22.5,25],"labelExpr":"datum.value % 5 === 0 ? format(datum.value, 'd') : ''","labelOverlap":false,"labelPadding":3,"titlePadding":18,
     "tickSize":{"condition":{"test":"datum.value % 5 !== 0","value":3},"value":6}}}}},
 {"data":{"name":"ampsum"},"mark":{"type":"rule","color":"black","strokeWidth":2},
  "encoding":{"x":{"field":"group","type":"nominal"},"y":{"field":"lo","type":"quantitative"},"y2":{"field":"hi"}}},
 {"data":{"name":"ampsum"},"mark":{"type":"tick","color":"black","size":11,"thickness":2},
  "encoding":{"x":{"field":"group","type":"nominal"},"y":{"field":"hi","type":"quantitative"}}},
 {"data":{"name":"amppts"},"mark":{"type":"point","filled":true,"color":"#111","opacity":1},
  "encoding":{"x":{"field":"group","type":"nominal"},"y":{"field":"val","type":"quantitative"},
   "shape":{"field":"group","type":"nominal","scale":{"domain":["Control","G93A"],"range":["square","triangle-up"]},"legend":null},
   "size":{"field":"group","type":"nominal","scale":{"domain":["Control","G93A"],"range":[85,150]},"legend":null}}},
 {"data":{"values":[{"label":"C","group":"Control","v":27.1}]},"mark":{"type":"text","fontSize":23,"align":"center","baseline":"middle","color":"black","dx":-109.5},
  "encoding":{"x":{"field":"group","type":"nominal"},"y":{"field":"v","type":"quantitative"},"text":{"field":"label"}}},
 {"data":{"values":[{"label":"Control","group":"G93A","v":28.84},{"label":"G93A","group":"G93A","v":26.8}]},"mark":{"type":"text","fontSize":18,"fontWeight":"bold","align":"left","baseline":"middle","color":"black","dx":-3.4},
  "encoding":{"x":{"field":"group","type":"nominal"},"y":{"field":"v","type":"quantitative"},"text":{"field":"label"}}},
 {"data":{"values":[{"label":"n","group":"G93A","v":28.84}]},"mark":{"type":"text","fontSize":18,"fontWeight":"bold","fontStyle":"italic","align":"left","baseline":"middle","color":"black","dx":65.6},
  "encoding":{"x":{"field":"group","type":"nominal"},"y":{"field":"v","type":"quantitative"},"text":{"field":"label"}}},
 {"data":{"values":[{"label":"n","group":"G93A","v":26.8}]},"mark":{"type":"text","fontSize":18,"fontWeight":"bold","fontStyle":"italic","align":"left","baseline":"middle","color":"black","dx":51.6},
  "encoding":{"x":{"field":"group","type":"nominal"},"y":{"field":"v","type":"quantitative"},"text":{"field":"label"}}},
 {"data":{"values":[{"label":"= 24","group":"G93A","v":28.84}]},"mark":{"type":"text","fontSize":18,"fontWeight":"bold","align":"left","baseline":"middle","color":"black","dx":81.6},
  "encoding":{"x":{"field":"group","type":"nominal"},"y":{"field":"v","type":"quantitative"},"text":{"field":"label"}}},
 {"data":{"values":[{"label":"= 22","group":"G93A","v":26.8}]},"mark":{"type":"text","fontSize":18,"fontWeight":"bold","align":"left","baseline":"middle","color":"black","dx":67.6},
  "encoding":{"x":{"field":"group","type":"nominal"},"y":{"field":"v","type":"quantitative"},"text":{"field":"label"}}}
]}
],
"resolve":{"scale":{"x":"independent","y":"independent"},"axis":{"x":"independent","y":"independent"}}
}
